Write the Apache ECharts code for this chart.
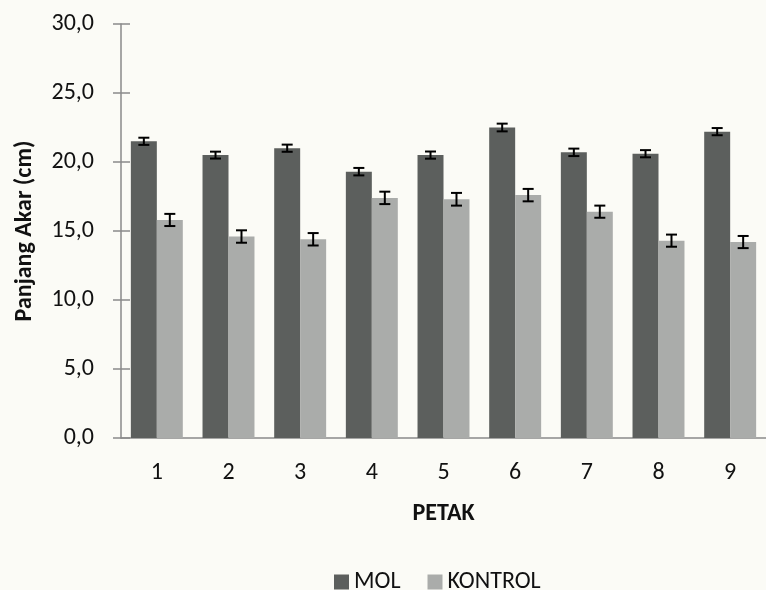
<!DOCTYPE html>
<html>
<head>
<meta charset="utf-8">
<script src="https://cdn.jsdelivr.net/npm/echarts@6/dist/echarts.min.js"></script>
<style>
  html, body { margin: 0; padding: 0; background: #fbfbf6; }
  #chart { width: 766px; height: 590px; }
</style>
</head>
<body>
<div id="chart"></div>
<script>
// Root length per plot (PETAK), MOL treatment vs. control
const categories = ['1', '2', '3', '4', '5', '6', '7', '8', '9'];
const molValues = [21.5, 20.5, 21.0, 19.3, 20.5, 22.5, 20.7, 20.6, 22.2];
const kontrolValues = [15.8, 14.6, 14.4, 17.4, 17.3, 17.6, 16.4, 14.3, 14.2];
const molErrors = [0.26, 0.25, 0.26, 0.27, 0.26, 0.28, 0.27, 0.26, 0.26];
const kontrolErrors = [0.44, 0.45, 0.45, 0.45, 0.46, 0.45, 0.44, 0.44, 0.44];
const seriesNames = ['MOL', 'KONTROL'];

const FONT = 'Carlito, "Open Sans", sans-serif';
const AXIS_GRAY = '#8a8a8a';
const CATEGORY_GAP = 0.275;

function errorData(values, errors) {
  return values.map((v, i) => [i, v - errors[i], v + errors[i]]);
}

// Whisker for one bar of the grouped pair; side = -1 (left bar) or +1 (right bar)
function whisker(side) {
  return function (params, api) {
    const band = api.size([1, 0])[0];
    const barW = band * (1 - CATEGORY_GAP) / 2;
    const lo = api.coord([api.value(0), api.value(1)]);
    const hi = api.coord([api.value(0), api.value(2)]);
    const x = lo[0] + side * barW / 2;
    const cap = 5.5;
    const style = { stroke: '#000', lineWidth: 2 };
    return {
      type: 'group',
      children: [
        { type: 'line', shape: { x1: x, y1: hi[1], x2: x, y2: lo[1] }, style },
        { type: 'line', shape: { x1: x - cap, y1: hi[1], x2: x + cap, y2: hi[1] }, style },
        { type: 'line', shape: { x1: x - cap, y1: lo[1], x2: x + cap, y2: lo[1] }, style }
      ]
    };
  };
}

const chart = echarts.init(document.getElementById('chart'));
chart.setOption({
  backgroundColor: '#fbfbf6',
  animation: false,
  textStyle: { fontFamily: FONT },
  grid: { left: 121, right: -11, top: 24, bottom: 152, containLabel: false },
  legend: {
    data: seriesNames,
    top: 565,
    left: 329,
    icon: 'rect',
    itemWidth: 15,
    itemHeight: 15,
    itemGap: 27,
    textStyle: { fontFamily: FONT, fontSize: 24, color: '#111' }
  },
  xAxis: {
    type: 'category',
    data: categories,
    name: 'PETAK',
    nameLocation: 'middle',
    nameGap: 64,
    nameTextStyle: { fontFamily: FONT, fontSize: 24, fontWeight: 'bold', color: '#111' },
    axisLine: { lineStyle: { color: AXIS_GRAY, width: 1.5 } },
    axisTick: { show: false },
    axisLabel: { margin: 23, fontSize: 24, color: '#111', fontFamily: FONT }
  },
  yAxis: [
    {
      type: 'value',
      min: 0,
      max: 30,
      interval: 5,
      name: 'Panjang Akar (cm)',
      nameLocation: 'middle',
      nameGap: 84,
      nameTextStyle: { fontFamily: FONT, fontSize: 24, fontWeight: 'bold', color: '#111' },
      axisLine: { show: true, lineStyle: { color: AXIS_GRAY, width: 1.5 } },
      axisTick: { show: true, length: 8, lineStyle: { color: AXIS_GRAY, width: 1.5 } },
      splitLine: { show: false },
      axisLabel: {
        margin: 27,
        fontSize: 24,
        color: '#111',
        fontFamily: FONT,
        formatter: v => v.toFixed(1).replace('.', ',')
      }
    },
    {
      // inner half of the crossing tick marks
      type: 'value',
      position: 'left',
      min: 0,
      max: 30,
      interval: 5,
      axisLine: { show: false },
      axisTick: { show: true, inside: true, length: 9, lineStyle: { color: AXIS_GRAY, width: 1.5 } },
      axisLabel: { show: false },
      splitLine: { show: false }
    }
  ],
  series: [
    {
      name: 'MOL',
      type: 'bar',
      data: molValues,
      barGap: '0%',
      barCategoryGap: (CATEGORY_GAP * 100) + '%',
      itemStyle: { color: '#5c5f5d' }
    },
    {
      name: 'KONTROL',
      type: 'bar',
      data: kontrolValues,
      barGap: '0%',
      barCategoryGap: (CATEGORY_GAP * 100) + '%',
      itemStyle: { color: '#aaacaa' }
    },
    {
      type: 'custom',
      data: errorData(molValues, molErrors),
      encode: { x: 0, y: [1, 2] },
      renderItem: whisker(-1),
      z: 10,
      silent: true
    },
    {
      type: 'custom',
      data: errorData(kontrolValues, kontrolErrors),
      encode: { x: 0, y: [1, 2] },
      renderItem: whisker(1),
      z: 10,
      silent: true
    }
  ]
});
</script>
</body>
</html>
